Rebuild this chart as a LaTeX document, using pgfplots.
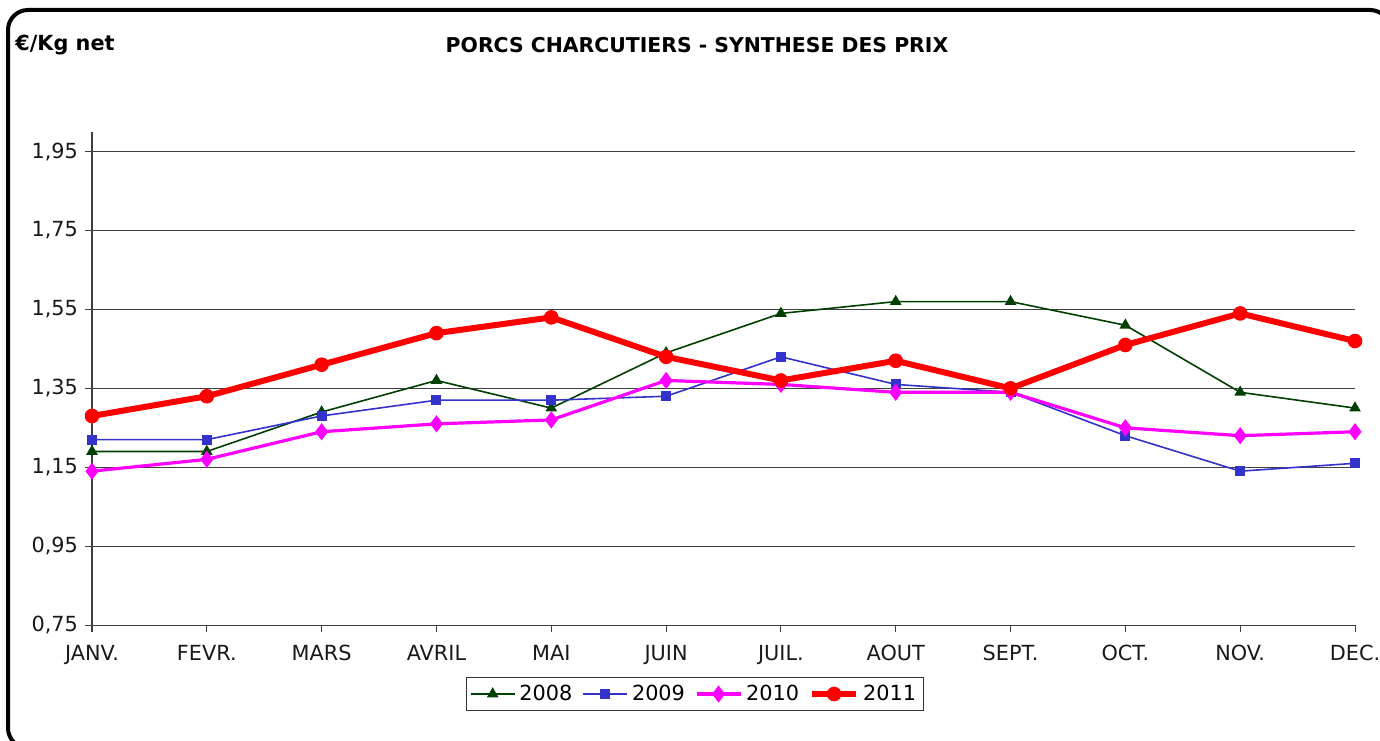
\documentclass[border=0pt]{standalone}
\usepackage{fontspec}
\setmainfont{DejaVu Sans}
\usepackage{pgfplots}
\pgfplotsset{compat=1.18}

\definecolor{c2008}{RGB}{0,64,0}
\definecolor{c2009}{RGB}{51,51,204}
\definecolor{c2010}{RGB}{255,0,255}
\definecolor{c2011}{RGB}{255,0,0}

\begin{document}
\begin{tikzpicture}
% 1 px of the reference = 0.5pt
\clip (0pt,0pt) rectangle (690pt,370pt);
\fill[white] (0pt,0pt) rectangle (690pt,370pt);
\draw[line width=2pt, rounded corners=10pt] (4pt,-4pt) rectangle (695pt,365pt);
\node[font=\bfseries\fontsize{10.4}{12}\selectfont, anchor=west, inner sep=0pt] at (7.5pt,347.5pt) {€/Kg net};
\node[font=\bfseries\fontsize{10.2}{12}\selectfont, inner sep=0pt] at (348.5pt,347.5pt) {PORCS CHARCUTIERS - SYNTHESE DES PRIX};
\begin{axis}[
  at={(46pt,57.5pt)}, anchor=south west, scale only axis,
  width=631.5pt, height=246.5pt,
  xmin=0, xmax=11, ymin=0.75, ymax=2.0,
  axis x line=bottom, axis y line=left,
  axis line style={-, black!75, line width=0.5pt},
  xtick={0,...,11},
  xticklabels={JANV.,FEVR.,MARS,AVRIL,MAI,JUIN,JUIL.,AOUT,SEPT.,OCT.,NOV.,DEC.},
  xticklabel style={yshift=-3pt},
  ytick={0.75,0.95,1.15,1.35,1.55,1.75,1.95},
  yticklabel style={/pgf/number format/.cd, fixed, fixed zerofill, precision=2, use comma, assume math mode=true},
  ticklabel style={font=\fontsize{10.4}{12}\selectfont, black!90},
  tick style={black!75, line width=0.5pt},
  major tick length=3.5pt, tick align=outside,
  ymajorgrids, grid style={black!75, line width=0.5pt},
  clip=false,
  legend columns=4,
  legend style={at={(0.4774,-0.14)}, anchor=center, draw=black!80, line width=0.5pt,
    font=\fontsize{10.4}{12}\selectfont, inner sep=1.5pt,
    /tikz/every odd column/.append style={column sep=0pt},
    /tikz/every even column/.append style={column sep=3pt}},
  legend image code/.code={\draw[#1] (0pt,0pt) -- (22pt,0pt); \draw[#1, mark repeat=1] plot coordinates {(11pt,0pt)};},
]
\addplot[c2008, line width=0.8pt, mark=triangle*, mark size=2.6pt, mark options={solid}] coordinates {
(0,1.19) (1,1.19) (2,1.29) (3,1.37) (4,1.30) (5,1.44) (6,1.54) (7,1.57) (8,1.57) (9,1.51) (10,1.34) (11,1.30)};
\addlegendentry{2008}
\addplot[c2009, line width=0.8pt, mark=square*, mark size=2.1pt] coordinates {
(0,1.22) (1,1.22) (2,1.28) (3,1.32) (4,1.32) (5,1.33) (6,1.43) (7,1.36) (8,1.34) (9,1.23) (10,1.14) (11,1.16)};
\addlegendentry{2009}
\addplot[c2010, line width=1.6pt, mark=diamond*, mark size=3pt] coordinates {
(0,1.14) (1,1.17) (2,1.24) (3,1.26) (4,1.27) (5,1.37) (6,1.36) (7,1.34) (8,1.34) (9,1.25) (10,1.23) (11,1.24)};
\addlegendentry{2010}
\addplot[c2011, line width=3pt, mark=*, mark size=3.4pt, mark options={line width=0.5pt}] coordinates {
(0,1.28) (1,1.33) (2,1.41) (3,1.49) (4,1.53) (5,1.43) (6,1.37) (7,1.42) (8,1.35) (9,1.46) (10,1.54) (11,1.47)};
\addlegendentry{2011}
\end{axis}
\end{tikzpicture}
\end{document}
